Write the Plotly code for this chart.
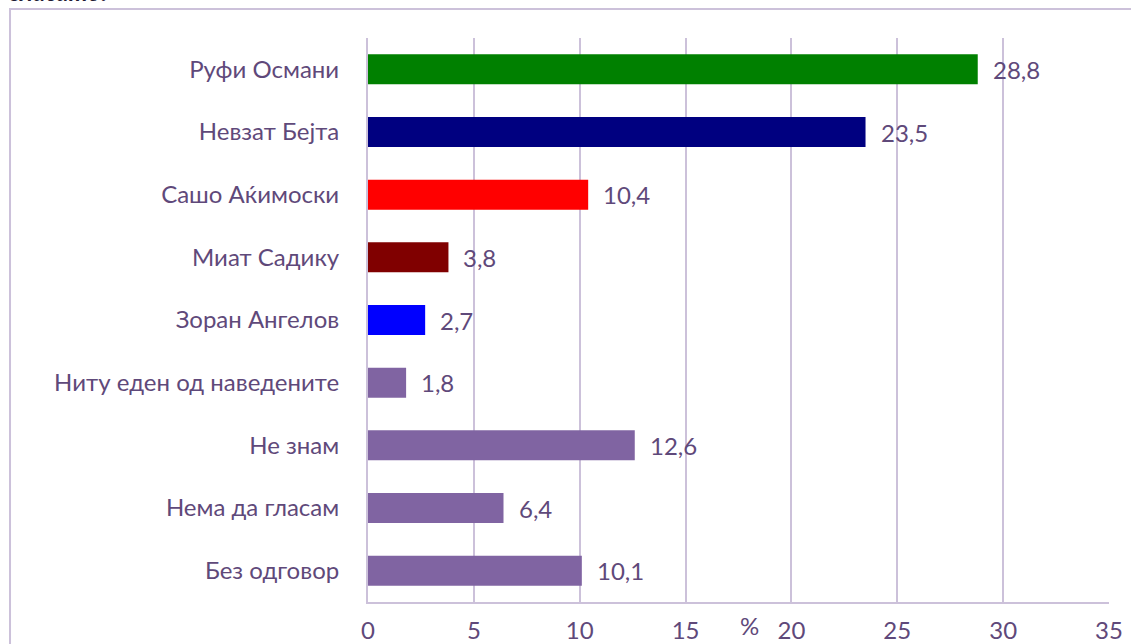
import plotly.graph_objects as go

categories = ["Руфи Османи", "Невзат Бејта", "Сашо Аќимоски", "Миат Садику",
              "Зоран Ангелов", "Ниту еден од наведените", "Не знам",
              "Нема да гласам", "Без одговор"]
values = [28.8, 23.5, 10.4, 3.8, 2.7, 1.8, 12.6, 6.4, 10.1]
bar_colors = ["#008000", "#000080", "#FF0000", "#800000", "#0000FF",
              "#8064A2", "#8064A2", "#8064A2", "#8064A2"]
x_ticks = [0, 5, 10, 15, 20, 25, 30, 35]
x_title = "%"
top_text = "гласате?"

TEXT = "#5F497A"
GRID = "#CCC1DA"
FONT = "Lato"
FS = 24

fig = go.Figure()
fig.add_trace(go.Bar(
    y=categories, x=values, orientation="h",
    marker=dict(color=bar_colors, line=dict(width=0)),
    hoverinfo="skip",
))

for c, v in zip(categories, values):
    fig.add_annotation(x=v, y=c, xref="x", yref="y",
                       text=f"{v:.1f}".replace(".", ","),
                       showarrow=False, xanchor="left", xshift=13,
                       font=dict(family=FONT, size=FS, color=TEXT))

# axis title "%"
fig.add_annotation(x=0.515, y=-0.041, xref="paper", yref="paper",
                   text=x_title, showarrow=False, xanchor="center", yanchor="middle",
                   font=dict(family=FONT, size=FS, color=TEXT))

# cut-off heading text
fig.add_annotation(x=-0.486, y=1.0535, xref="paper", yref="paper",
                   text=f"<b><i>{top_text}</i></b>", showarrow=False,
                   xanchor="left", yanchor="bottom",
                   font=dict(family=FONT, size=FS, color="#1F1A33"))

# outer frame
fig.add_shape(type="rect", xref="paper", yref="paper",
              x0=-0.4831, y0=-0.3, x1=1.2, y1=1.0514,
              line=dict(color=GRID, width=2), fillcolor="rgba(0,0,0,0)",
              layer="below")

fig.update_layout(
    width=1131, height=644,
    margin=dict(l=368, r=22, t=38, b=42),
    paper_bgcolor="white", plot_bgcolor="white",
    bargap=0.52,
    showlegend=False,
    font=dict(family=FONT, size=FS, color=TEXT),
    xaxis=dict(range=[0, 35], tickvals=x_ticks, ticktext=[str(t) for t in x_ticks],
               showgrid=True, gridcolor=GRID, gridwidth=2,
               showline=True, linecolor=GRID, linewidth=2,
               zeroline=False, ticks="", ticklen=0, ticklabelstandoff=6,
               automargin=False,
               tickfont=dict(family=FONT, size=FS, color=TEXT),
               fixedrange=True),
    yaxis=dict(categoryorder="array", categoryarray=categories,
               autorange="reversed",
               showgrid=False, showline=True, linecolor=GRID, linewidth=2,
               ticks="", ticklabelstandoff=22, automargin=False,
               tickfont=dict(family=FONT, size=FS, color=TEXT),
               fixedrange=True),
)

fig.write_html("out.html")
